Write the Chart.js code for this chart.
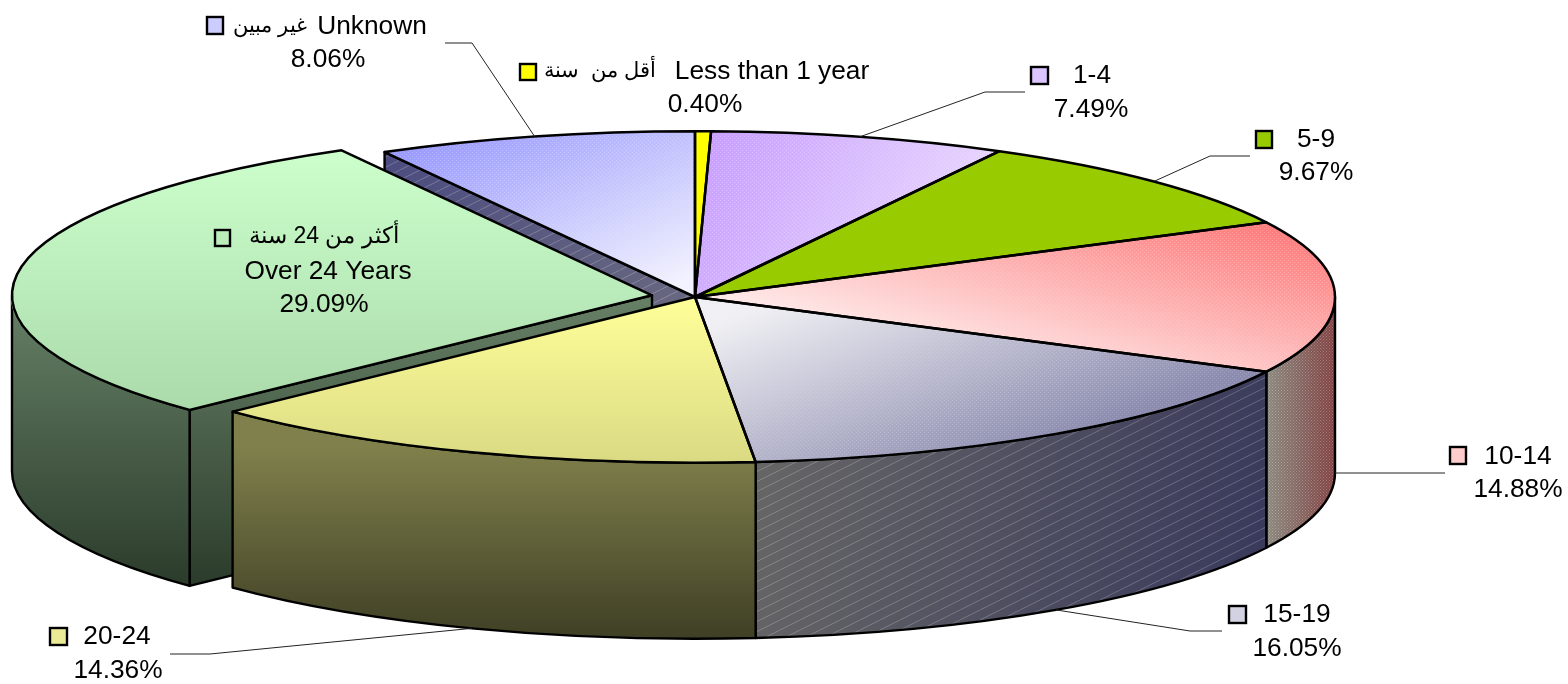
<!DOCTYPE html>
<html><head><meta charset="utf-8">
<style>html,body{margin:0;padding:0;background:#fff}canvas{display:block}</style>
<script src="https://cdn.jsdelivr.net/npm/chart.js@4"></script>
</head><body><canvas id="c" width="1568" height="684"></canvas>
<script>
// ---- data ----
const categories = ['Less than 1 year','1-4','5-9','10-14','15-19','20-24','Over 24 Years','Unknown'];
const arabicNames = ['أقل من  سنة','','','','','','أكثر من 24 سنة','غير مبين'];
const values = [0.40,7.49,9.67,14.88,16.05,14.36,29.09,8.06];
const explode = [0,0,0,0,0,0,174,0];

// ---- styles ----
const SQUASH = 0.259, DEPTH = 176, RADIUS = 640;
// gradient of each top face, in screen px relative to the pie centre: [x0,y0,x1,y1,colour0,colour1]
const topFill = [
  [0,0,0,1,'#FFFF00','#FFFF00'],
  [0,-165,260,-20,'#C79CFF','#EAD9FF'],
  [0,0,0,1,'#99CC00','#99CC00'],
  [560,-70,505,141,'#FF7E7E','#FFF0F0'],
  [60,10,144,229,'#F0F0F4','#8C8CB0'],
  [0,0,0,165,'#FFFF99','#DADA84'],
  [-300,-145,-300,113,'#CCFFCC','#ABDAAB'],
  [-305,-144,-206,74,'#9999FF','#F2F2FF']
];
// wall gradient in screen px relative to the pie centre
const wallFill = [
  null,null,null,
  [570,0,640,0,'#8A8A80','#804040'],
  [60,170,560,250,'#666666','#3A3A5C'],
  [0,150,0,342,'#80804C','#3F3F25'],
  [0,0,0,290,'#668066','#2B3B2B'],
  [-310,-145,0,0,'#4C4C80','#686880']
];
const topHatch = [0,.16,0,.14,.12,0,0,.16];
const swatch = ['#FFFF00','#DCC4FF','#99CC00','#FFCCCC','#D2D2E2','#EBEB95','#BBEEBB','#CCCCFF'];
const font = '"Liberation Sans", Arial, sans-serif';
// label layout: square [x,y,w,h], then text runs [centre x, y]
const labelLayout = [
  {sq:[520,64,16,16], ar:[600,71,21], name:[772,72], pct:[705,105], line:[]},
  {sq:[1031,67,17,17], name:[1092,76], pct:[1091,110], line:[[985,92],[1025,92]]},
  {sq:[1256,131,16,17], name:[1316,140], pct:[1316,173], line:[[1210,156],[1250,156]]},
  {sq:[1450,447,16,17], name:[1518,457], pct:[1518,490], line:[[1445,473]], base:true},
  {sq:[1229,606,17,17], name:[1297,615], pct:[1297,649], line:[[1190,631],[1222,631]], base:true},
  {sq:[50,628,17,17], name:[117,637], pct:[118,671], line:[[210,654],[170,654]], base:true},
  {sq:[215,230,15,16], ar:[324,237,23], name:[328,272], pct:[324,305], line:null},
  {sq:[207,17,16,17], ar:[270,26,21], name:[372,27], pct:[328,60], line:[[472,43],[445,43]]}
];

function hatchPattern(ctx, w, h, alpha, dotted){
  const p = document.createElement('canvas'); p.width = w; p.height = h;
  const g = p.getContext('2d');
  g.strokeStyle = g.fillStyle = 'rgba(255,255,255,'+alpha+')';
  if (dotted){ g.fillRect(0,0,1,1); g.fillRect(w/2,h/2,1,1); }
  else { g.lineWidth = 1; g.beginPath(); g.moveTo(0,h); g.lineTo(w,0); g.stroke(); }
  return ctx.createPattern(p,'repeat');
}
function screenGrad(ctx, cx, cy, f){
  const [x0,y0,x1,y1,c0,c1] = f;
  const g = ctx.createLinearGradient(cx+x0,cy+y0,cx+x1,cy+y1);
  g.addColorStop(0,c0); g.addColorStop(1,c1); return g;
}
// gradient that looks right on screen once the context is squashed
function topGrad(chart, f){
  const a = chart.chartArea;
  if (!a) return f[4];
  const cx=(a.left+a.right)/2, cy=(a.top+a.bottom)/2;
  const [x0,y0,x1,y1,c0,c1] = f;
  const dx=x1-x0, dy=y1-y0, n=dx*dx+dy*dy, A=dx/n, B=SQUASH*dy/n, m=A*A+B*B;
  const px=cx+x0, py=cy+y0/SQUASH;
  const g = chart.ctx.createLinearGradient(px,py,px+A/m,py+B/m);
  g.addColorStop(0,c0); g.addColorStop(1,c1); return g;
}
function arcGeom(el){
  const off=(el.options.offset||0)/4, half=(el.startAngle+el.endAngle)/2;
  return {x:el.x+Math.cos(half)*off, y:el.y+Math.sin(half)*off*SQUASH,
          r:el.outerRadius, a:el.startAngle, b:el.endAngle, mid:half};
}
function outerWallPath(ctx,g){
  const a=Math.max(g.a,0), b=Math.min(g.b,Math.PI);
  ctx.beginPath();
  ctx.ellipse(g.x,g.y,g.r,g.r*SQUASH,0,a,b,false);
  ctx.ellipse(g.x,g.y+DEPTH,g.r,g.r*SQUASH,0,b,a,true);
  ctx.closePath();
}
function radialWallPath(ctx,g,ang){
  const ex=g.x+Math.cos(ang)*g.r, ey=g.y+Math.sin(ang)*g.r*SQUASH;
  ctx.beginPath(); ctx.moveTo(g.x,g.y); ctx.lineTo(ex,ey);
  ctx.lineTo(ex,ey+DEPTH); ctx.lineTo(g.x,g.y+DEPTH); ctx.closePath();
}
function topPath(ctx,g){
  ctx.beginPath(); ctx.moveTo(g.x,g.y);
  ctx.ellipse(g.x,g.y,g.r,g.r*SQUASH,0,g.a,g.b,false); ctx.closePath();
}

const pie3d = {
  id:'pie3d',
  beforeDatasetsDraw(chart){
    const ctx=chart.ctx, arcs=chart.getDatasetMeta(0).data, a=chart.chartArea;
    const cx=(a.left+a.right)/2, cy=(a.top+a.bottom)/2;
    const bigHatch=hatchPattern(ctx,20,10,.22,false), dots=hatchPattern(ctx,3,3,.28,true);
    ctx.save();
    ctx.lineWidth=2.4; ctx.strokeStyle='#000'; ctx.lineJoin='round';
    const paint=(i,overlay)=>{
      ctx.fillStyle=screenGrad(ctx,cx,cy,wallFill[i]); ctx.fill();
      if(overlay){ctx.fillStyle=overlay; ctx.fill();}
      ctx.stroke();
    };
    // back to front: cut face behind the exploded slice, the exploded slice, then the front walls
    radialWallPath(ctx,arcGeom(arcs[7]),arcs[7].startAngle); paint(7,bigHatch);
    const g6=arcGeom(arcs[6]);
    radialWallPath(ctx,g6,g6.a); paint(6);
    outerWallPath(ctx,g6); paint(6);
    [3,4,5].forEach(i=>{ outerWallPath(ctx,arcGeom(arcs[i])); paint(i,i===3?dots:i===4?bigHatch:null); });
    ctx.restore();
    // squash the library's own circular arcs into ellipses
    ctx.save();
    ctx.translate(0,cy); ctx.scale(1,SQUASH); ctx.translate(0,-cy);
  },
  afterDatasetsDraw(chart){
    const ctx=chart.ctx, arcs=chart.getDatasetMeta(0).data;
    ctx.restore();
    const fine=hatchPattern(ctx,4,4,1,true);
    ctx.save();
    ctx.lineWidth=2.5; ctx.strokeStyle='#000'; ctx.lineJoin='round';
    arcs.forEach((el,i)=>{
      const g=arcGeom(el);
      topPath(ctx,g);
      if(topHatch[i]){ctx.globalAlpha=topHatch[i]*1.4; ctx.fillStyle=fine; ctx.fill(); ctx.globalAlpha=1;}
      ctx.stroke();
    });
    ctx.restore();
  },
  afterDraw(chart){
    const ctx=chart.ctx, arcs=chart.getDatasetMeta(0).data;
    ctx.save();
    labelLayout.forEach((L,i)=>{
      if(L.line && L.line.length){
        const g=arcGeom(arcs[i]);
        const sx=g.x+Math.cos(g.mid)*g.r, sy=g.y+Math.sin(g.mid)*g.r*SQUASH+(L.base?DEPTH:0);
        ctx.beginPath(); ctx.moveTo(sx,sy);
        L.line.forEach(p=>ctx.lineTo(p[0],p[1]));
        ctx.lineWidth=1; ctx.strokeStyle='#222'; ctx.stroke();
      }
      ctx.fillStyle=swatch[i]; ctx.strokeStyle='#000'; ctx.lineWidth=2.4;
      ctx.fillRect(...L.sq); ctx.strokeRect(...L.sq);
      ctx.fillStyle='#000'; ctx.textAlign='center'; ctx.textBaseline='middle';
      ctx.direction='ltr';
      ctx.font='26.3px '+font;
      ctx.fillText(categories[i],L.name[0],L.name[1]);
      ctx.fillText(values[i].toFixed(2)+'%',L.pct[0],L.pct[1]);
      if(L.ar){
        ctx.direction='rtl'; ctx.font=L.ar[2]+'px '+font;
        ctx.fillText(arabicNames[i],L.ar[0],L.ar[1]);
      }
    });
    ctx.restore();
  }
};

new Chart(document.getElementById('c'),{
  type:'pie',
  data:{labels:categories,datasets:[{
    data:values,
    offset:explode,
    borderWidth:0,
    clip:false,
    backgroundColor:c=>topGrad(c.chart,topFill[c.dataIndex])
  }]},
  options:{
    responsive:false,animation:false,radius:RADIUS,
    layout:{padding:{left:0,top:0,right:178,bottom:90}},
    events:[],
    plugins:{legend:{display:false},tooltip:{enabled:false}}
  },
  plugins:[pie3d]
});
</script></body></html>
